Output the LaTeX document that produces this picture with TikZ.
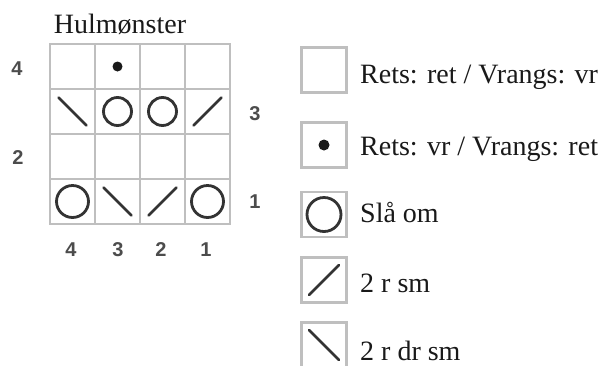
\documentclass[tikz,border=0pt]{standalone}
\usepackage{fontspec}
\setmainfont{Liberation Serif}
\newfontfamily\numfont{Liberation Sans}
\usetikzlibrary{calc}
\tikzset{cell/.style={draw=black!25, line width=2pt, minimum size=45pt, inner sep=0pt}}
\tikzset{keybox/.style={draw=black!25, line width=2.5pt, minimum size=45pt, inner sep=0pt}}
\tikzset{sym/.style={draw=black!80, line width=2.8pt, line cap=round}}
\tikzset{purl/.style={fill=black!90}}
\tikzset{num/.style={font=\numfont\bfseries\fontsize{20}{20}\selectfont, text=black!70}}
\tikzset{lbl/.style={font=\fontsize{28}{30}\selectfont, text=black!90, anchor=base west, inner sep=0pt}}

\begin{document}
\begin{tikzpicture}[x=1pt,y=-1pt]
\useasboundingbox (0,0) rectangle (602,365);
\node (title) at (120,33)[lbl, anchor=base]{Hulmønster};
% chart, row 4 on top, stitch 4 on the left
\node (r4c4) at (72.5,66.5)[cell]{};
\node (r4c3) at (117.5,66.5)[cell]{};
\node (r4c2) at (162.5,66.5)[cell]{};
\node (r4c1) at (207.5,66.5)[cell]{};
\node (r3c4) at (72.5,111.5)[cell]{};
\node (r3c3) at (117.5,111.5)[cell]{};
\node (r3c2) at (162.5,111.5)[cell]{};
\node (r3c1) at (207.5,111.5)[cell]{};
\node (r2c4) at (72.5,156.5)[cell]{};
\node (r2c3) at (117.5,156.5)[cell]{};
\node (r2c2) at (162.5,156.5)[cell]{};
\node (r2c1) at (207.5,156.5)[cell]{};
\node (r1c4) at (72.5,201.5)[cell]{};
\node (r1c3) at (117.5,201.5)[cell]{};
\node (r1c2) at (162.5,201.5)[cell]{};
\node (r1c1) at (207.5,201.5)[cell]{};
% row and stitch numbers
\node (row4) at (17,69)[num]{4};
\node (row3) at (255,114)[num]{3};
\node (row2) at (18,158)[num]{2};
\node (row1) at (255,202)[num]{1};
\node (st4) at (71,250)[num]{4};
\node (st3) at (118,250)[num]{3};
\node (st2) at (161,250)[num]{2};
\node (st1) at (206,250)[num]{1};
% symbols
\fill[purl] (r4c3.center) circle (5pt);
\draw[sym] ([shift={(-14,-14)}]r3c4.center) -- ([shift={(14,14)}]r3c4.center);
\draw[sym] (r3c3.center) circle (14pt);
\draw[sym] (r3c2.center) circle (14pt);
\draw[sym] ([shift={(-14,14)}]r3c1.center) -- ([shift={(14,-14)}]r3c1.center);
\draw[sym] (r1c4.center) circle (16pt);
\draw[sym] ([shift={(-14,-14)}]r1c3.center) -- ([shift={(14,14)}]r1c3.center);
\draw[sym] ([shift={(-14,14)}]r1c2.center) -- ([shift={(14,-14)}]r1c2.center);
\draw[sym] (r1c1.center) circle (16pt);
% legend
\node (k1) at (324,70)[keybox]{};
\node (t1) at (360,83)[lbl]{Rets: ret / Vrangs: vr};
\node (k2) at (324,145)[keybox]{};
\fill[purl] (k2.center) circle (5.5pt);
\node (t2) at (360,155)[lbl]{Rets: vr / Vrangs: ret};
\node (k3) at (324,214.5)[keybox]{};
\draw[sym] (k3.center) circle (17pt);
\node (t3) at (360,222)[lbl]{Slå om};
\node (k4) at (324,280)[keybox]{};
\draw[sym] ([shift={(-15,15)}]k4.center) -- ([shift={(15,-15)}]k4.center);
\node (t4) at (360,292)[lbl]{2 r sm};
\node (k5) at (324,345)[keybox]{};
\draw[sym] ([shift={(-15,-15)}]k5.center) -- ([shift={(15,15)}]k5.center);
\node (t5) at (360,360)[lbl]{2 r dr sm};
\end{tikzpicture}
\end{document}
